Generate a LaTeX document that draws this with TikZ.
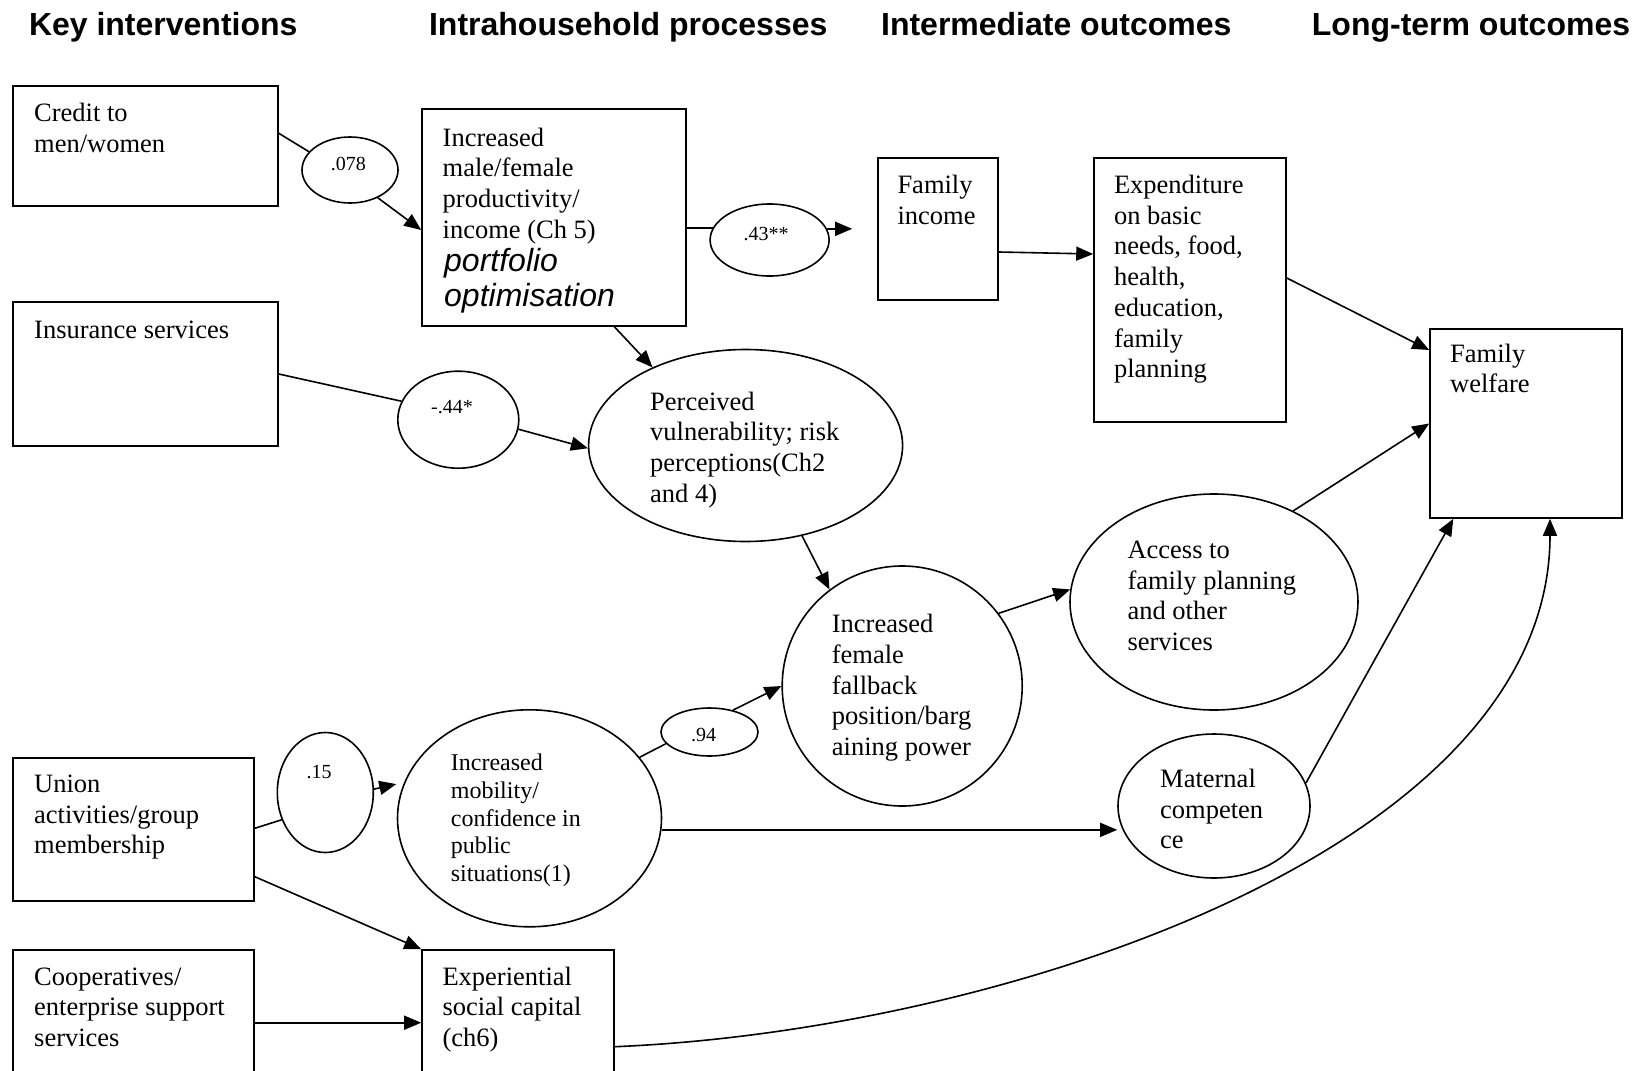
\documentclass[tikz,border=0pt]{standalone}
\usepackage{fontspec}
\setmainfont{Liberation Serif}
\newfontfamily\headfont{Liberation Sans}
\usetikzlibrary{arrows.meta,calc,shapes.geometric}

% left-aligned block whose baseline is that of its first line
\newcommand{\stack}[1]{\begin{tabular}[t]{@{}l@{}}#1\end{tabular}}

\begin{document}
\begin{tikzpicture}[x=1pt,y=-1pt,
  box/.style={draw, line width=1.6pt, rectangle, inner sep=0pt},
  oval/.style={draw, line width=1.6pt, ellipse, inner sep=0pt},
  link/.style={line width=1.6pt},
  arr/.style={link, -{Triangle[length=17pt,width=14pt]}},
  head/.style={anchor=base west, inner sep=0pt, font=\headfont\bfseries\fontsize{32}{36}\selectfont},
  txt/.style={anchor=base west, inner sep=0pt, font=\fontsize{26.5}{30.7}\selectfont},
  txtsmall/.style={anchor=base west, inner sep=0pt, font=\fontsize{24}{27.75}\selectfont},
  ital/.style={anchor=base west, inner sep=0pt, font=\headfont\itshape\fontsize{32}{35}\selectfont},
  lab/.style={anchor=base, inner sep=0pt, font=\fontsize{20}{24}\selectfont}]

\useasboundingbox (0,0) rectangle (1634,1071);
\clip (0,0) rectangle (1634,1071);

% column headings
\node[head] (h1) at (28.8,35) {Key interventions};
\node[head] (h2) at (428.9,35) {Intrahousehold processes};
\node[head] (h3) at (880.9,35) {Intermediate outcomes};
\node[head] (h4) at (1311.7,35) {Long-term outcomes};

% boxes
\node[box, minimum width=265pt, minimum height=120pt] (credit) at (145.5,146) {};
\node[box, minimum width=264pt, minimum height=217pt] (incr) at (554,217.5) {};
\node[box, minimum width=120pt, minimum height=142pt] (income) at (938,229) {};
\node[box, minimum width=192pt, minimum height=264pt] (expend) at (1190,290) {};
\node[box, minimum width=192pt, minimum height=189pt] (welfare) at (1526,423.5) {};
\node[box, minimum width=265pt, minimum height=144pt] (insur) at (145.5,374) {};
\node[box, minimum width=241pt, minimum height=143pt] (union) at (133.5,829.5) {};
\node[box, minimum width=241pt, minimum height=150pt] (coop) at (133.5,1025) {};
\node[box, minimum width=192pt, minimum height=150pt] (exper) at (518,1025) {};

% ovals
\node[oval, minimum width=96pt, minimum height=66pt] (c078) at (350,170) {};
\node[oval, minimum width=119pt, minimum height=72pt] (c43) at (769.6,240) {};
\node[oval, minimum width=121pt, minimum height=97pt] (c44) at (458.3,419.7) {};
\node[oval, minimum width=314pt, minimum height=192pt] (perceived) at (745.6,445.5) {};
\node[oval, minimum width=240pt, minimum height=240pt] (female) at (902.2,686) {};
\node[oval, minimum width=97pt, minimum height=48pt] (c94) at (709.5,732) {};
\node[oval, minimum width=96pt, minimum height=120pt] (c15) at (325.3,792.5) {};
\node[oval, minimum width=264pt, minimum height=217pt] (mobility) at (529.5,818.3) {};
\node[oval, minimum width=288pt, minimum height=216pt] (access) at (1214,602) {};
\node[oval, minimum width=192pt, minimum height=144pt] (maternal) at (1214,806) {};

% texts
\node[txt] (tcredit) at (34,121.5) {\stack{Credit to\\men/women}};
\node[txt] (tincr) at (442.5,146) {\stack{Increased\\male/female\\productivity/\\income (Ch 5)}};
\node[ital] (tport) at (444,271) {\stack{portfolio\\optimisation}};
\node[txt] (tincome) at (897.3,193.5) {\stack{Family\\income}};
\node[txt] (texpend) at (1113.8,193.5) {\stack{Expenditure\\on basic\\needs, food,\\health,\\education,\\family\\planning}};
\node[txt] (twelfare) at (1450,362) {\stack{Family\\welfare}};
\node[txt] (tinsur) at (34,338.3) {Insurance services};
\node[txt] (tperc) at (650,410) {\stack{Perceived\\vulnerability; risk\\perceptions(Ch2\\and 4)}};
\node[txt] (tfemale) at (831.7,632.7) {\stack{Increased\\female\\fallback\\position/barg\\aining power}};
\node[txt] (taccess) at (1127.3,558.3) {\stack{Access to\\family planning\\and other\\services}};
\node[txt] (tmat) at (1160,787.3) {\stack{Maternal\\competen\\ce}};
\node[txtsmall] (tmob) at (450.7,770.7) {\stack{Increased\\mobility/\\confidence in\\public\\situations(1)}};
\node[txt] (tunion) at (34,792.3) {\stack{Union\\activities/group\\membership}};
\node[txt] (tcoop) at (34,985) {\stack{Cooperatives/\\enterprise support\\services}};
\node[txt] (texper) at (442.3,985) {\stack{Experiential\\social capital\\(ch6)}};

% coefficients
\node[lab] (t078) at (348.3,170.7) {.078};
\node[lab] (t43) at (766.2,240.7) {.43**};
\node[lab] (t44) at (452,413) {-.44*};
\node[lab] (t15) at (319,778.3) {.15};
\node[lab] (t94) at (703.5,741.7) {.94};

% connectors
\draw[link] ([yshift=12.7pt]credit.east) -- (c078.156);
\draw[arr] (c078.-45) -- ([yshift=-12.5pt]incr.west);
\draw[link] (c43.168 -| incr.east) -- (c43.168);
\draw[arr, shorten >=25pt] (c43.11) -- (c43.11 -| income.west);
\draw[arr] ([yshift=-23pt]income.east) -- ([yshift=36pt]expend.west);
\draw[arr] ([yshift=12pt]expend.east) -- ([yshift=73.5pt]welfare.west);
\draw[link] (insur.east) -- (c44.162);
\draw[arr] (c44.-9) -- (perceived.181);
\draw[arr] ([xshift=60.4pt]incr.south) -- (perceived.140);
\draw[arr] (perceived.-58) -- (female.127);
\draw[link] (union.east) ++(0,-1.2) -- (c15.212.6);
\draw[arr, shorten >=8pt] (c15.4) -- (mobility.164.6);
\draw[link] (mobility.29) -- (c94.195);
\draw[arr] (c94.43) -- (female.180);
\draw[arr] (female.37) -- (access.175);
\draw[arr] (access.49) -- (welfare.west);
\draw[arr] (mobility.-5) -- (mobility.-5 -| maternal.west);
\draw[arr] (maternal.14) -- ([xshift=-72.7pt]welfare.south);
\draw[arr] ([yshift=-47.2pt]union.east) -- (exper.north west);
\draw[arr] ([yshift=2.3pt]coop.east) -- ([yshift=2.3pt]exper.west);
\draw[arr] ([yshift=-21.7pt]exper.east) .. controls +(386,-16) and +(0,331) .. ([xshift=24pt]welfare.south);
\end{tikzpicture}
\end{document}
